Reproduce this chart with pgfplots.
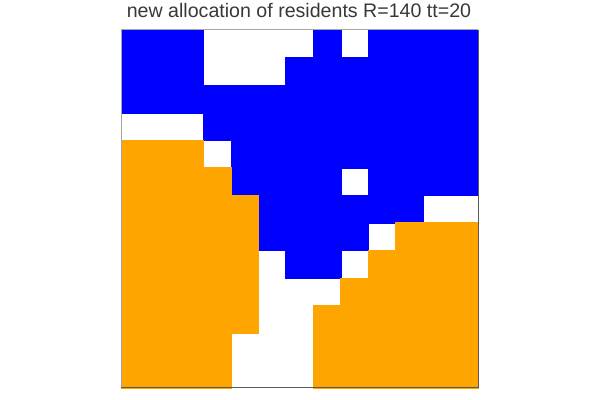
\documentclass[border=0pt]{standalone}
\usepackage{pgfplots}
\pgfplotsset{compat=1.18}
\usepackage{fontspec}
\setmainfont{Liberation Sans}
\definecolor{cellblue}{RGB}{0,0,255}
\definecolor{cellorange}{RGB}{255,165,0}
\begin{document}
\begin{tikzpicture}[x=0.75pt,y=0.75pt]
\useasboundingbox (0,0) rectangle (600,400);
\begin{axis}[
  at={(121*0.75pt,12*0.75pt)}, anchor=south west,
  scale only axis, width=357*0.75pt, height=358*0.75pt,
  xmin=-0.5, xmax=12.5, ymin=-0.5, ymax=12.5,
  y dir=reverse, enlargelimits=false,
  xtick=\empty, ytick=\empty,
  axis line style={draw=none},
  clip=true,
]
% blue cells (column, row from top)
\addplot[only marks, color=cellblue, mark=square*, mark size=10.4pt, mark options={fill=cellblue, draw=cellblue, line width=0.3pt}] coordinates {
(0,0)(1,0)(2,0)(7,0)(9,0)(10,0)(11,0)(12,0)
(0,1)(1,1)(2,1)(6,1)(7,1)(8,1)(9,1)(10,1)(11,1)(12,1)
(0,2)(1,2)(2,2)(3,2)(4,2)(5,2)(6,2)(7,2)(8,2)(9,2)(10,2)(11,2)(12,2)
(3,3)(4,3)(5,3)(6,3)(7,3)(8,3)(9,3)(10,3)(11,3)(12,3)
(4,4)(5,4)(6,4)(7,4)(8,4)(9,4)(10,4)(11,4)(12,4)
(4,5)(5,5)(6,5)(7,5)(9,5)(10,5)(11,5)(12,5)
(5,6)(6,6)(7,6)(8,6)(9,6)(10,6)
(5,7)(6,7)(7,7)(8,7)
(6,8)(7,8)
};
% orange cells
\addplot[only marks, color=cellorange, mark=square*, mark size=10.4pt, mark options={fill=cellorange, draw=cellorange, line width=0.3pt}] coordinates {
(0,4)(1,4)(2,4)
(0,5)(1,5)(2,5)(3,5)
(0,6)(1,6)(2,6)(3,6)(4,6)
(0,7)(1,7)(2,7)(3,7)(4,7)(10,7)(11,7)(12,7)
(0,8)(1,8)(2,8)(3,8)(4,8)(9,8)(10,8)(11,8)(12,8)
(0,9)(1,9)(2,9)(3,9)(4,9)(8,9)(9,9)(10,9)(11,9)(12,9)
(0,10)(1,10)(2,10)(3,10)(4,10)(7,10)(8,10)(9,10)(10,10)(11,10)(12,10)
(0,11)(1,11)(2,11)(3,11)(7,11)(8,11)(9,11)(10,11)(11,11)(12,11)
(0,12)(1,12)(2,12)(3,12)(7,12)(8,12)(9,12)(10,12)(11,12)(12,12)
};
\end{axis}
\draw[black!35, line width=0.75pt] (121,12) -- (121,370) -- (478,370);
\draw[black!65, line width=0.75pt] (121,12) -- (478,12) -- (478,370);
\node[anchor=base, text=black!78, font=\fontsize{14.7pt}{17pt}\selectfont] at (299,382) {new allocation of residents R=140 tt=20};
\end{tikzpicture}
\end{document}
